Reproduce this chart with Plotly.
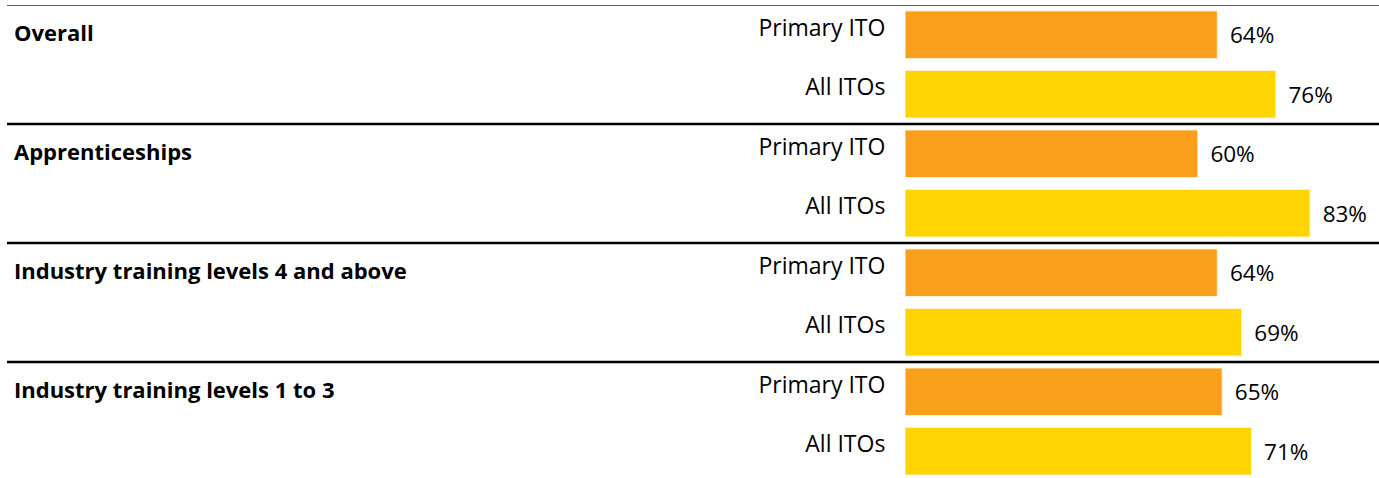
import plotly.graph_objects as go

groups = ["Overall", "Apprenticeships", "Industry training levels 4 and above", "Industry training levels 1 to 3"]
series = ["Primary ITO", "All ITOs"]
primary_ito = [64, 60, 64, 65]
all_itos = [76, 83, 69, 71]
colors = {"Primary ITO": "#F99F1C", "All ITOs": "#FFD400"}

W, H = 1379, 478
FONT = "Open Sans"

ypos, labels, vals, cols = [], [], [], []
for gi, g in enumerate(groups):
    for si, s in enumerate(series):
        ypos.append(gi * 2 + si)
        labels.append(s)
        vals.append(primary_ito[gi] if si == 0 else all_itos[gi])
        cols.append(colors[s])

fig = go.Figure()
fig.add_trace(go.Bar(
    x=vals, y=ypos, orientation="h",
    marker=dict(color=cols, line=dict(color="#FFF3D6", width=1)),
    width=0.8,
    text=["\u00a0\u2009" + f"{v}%" for v in vals],
    textposition="outside",
    textfont=dict(family=FONT, size=22.5, color="#000000"),
    cliponaxis=False,
    hoverinfo="skip",
))

shapes = []
for gi in range(len(groups)):
    yy = gi * 2 - 0.5
    shapes.append(dict(type="line", xref="paper", yref="y", x0=7 / W, x1=1, y0=yy, y1=yy,
                       line=dict(color="#595959" if gi == 0 else "#000000", width=2 if gi == 0 else 2.7)))

annotations = []
for gi, g in enumerate(groups):
    annotations.append(dict(xref="paper", yref="y", x=12 / W, y=gi * 2, xanchor="left", yanchor="middle",
                            yshift=3, text="<b>" + g + "</b>", showarrow=False,
                            font=dict(family=FONT, size=22, color="#000000")))

fig.update_layout(
    width=W, height=H,
    margin=dict(l=0, r=0, t=5, b=0),
    paper_bgcolor="white", plot_bgcolor="white",
    showlegend=False,
    shapes=shapes, annotations=annotations,
    xaxis=dict(domain=[905 / W, 1], range=[0, 474 / 4.88], visible=False, fixedrange=True),
    yaxis=dict(range=[-0.5 + 473 / 59.5, -0.5], tickvals=ypos, ticktext=labels,
               ticks="outside", ticklen=14, tickcolor="rgba(0,0,0,0)",
               tickfont=dict(family=FONT, size=23, color="#000000"),
               showgrid=False, zeroline=False, showline=False, fixedrange=True,
               ticklabelshift=7),
    bargap=0.2,
)

fig.write_html("out.html", config={"displayModeBar": False},
               post_script="document.body.style.margin='0';")
